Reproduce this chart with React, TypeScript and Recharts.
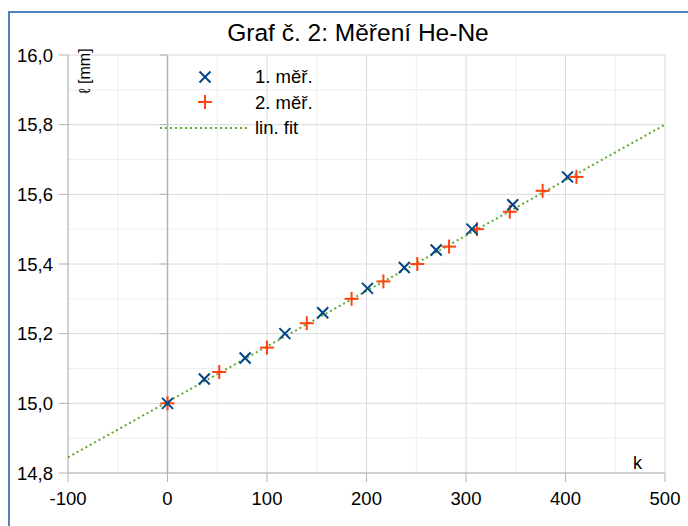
import React from "react";
import { ScatterChart, Scatter, XAxis, YAxis, CartesianGrid, ReferenceLine } from "recharts";

// 1. měření
const k1 = [0, 37, 78, 118, 156, 201, 238, 270, 306, 347, 402];
const l1 = [15.0, 15.07, 15.13, 15.2, 15.26, 15.33, 15.39, 15.44, 15.5, 15.57, 15.65];
// 2. měření
const k2 = [0, 52, 100, 140, 185, 217, 251, 283, 311, 344, 377, 411];
const l2 = [15.0, 15.09, 15.16, 15.23, 15.3, 15.35, 15.4, 15.45, 15.5, 15.55, 15.61, 15.65];
// lineární fit (koncové body)
const fitK = [-100, 500];
const fitL = [14.845, 15.8];

const xTicks = [-100, 0, 100, 200, 300, 400, 500];
const xMinor = [-50, 50, 150, 250, 350, 450];
const yTicks = [14.8, 15.0, 15.2, 15.4, 15.6, 15.8, 16.0];
const yMinor = [14.9, 15.1, 15.3, 15.5, 15.7, 15.9];

const BLUE = "#004586";
const RED = "#ff420e";
const GREEN = "#5fa82f";
const AXIS = "#b3b3b3";
const FONT = "'Liberation Sans', Arial, sans-serif";

const series1 = k1.map((k, i) => ({ k, l: l1[i] }));
const series2 = k2.map((k, i) => ({ k, l: l2[i] }));
const fit = fitK.map((k, i) => ({ k, l: fitL[i] }));

const Cross = (p: any) => {
  const { cx, cy } = p;
  const s = 5.5;
  return (
    <g stroke={BLUE} strokeWidth={2}>
      <line x1={cx - s} y1={cy - s} x2={cx + s} y2={cy + s} />
      <line x1={cx - s} y1={cy + s} x2={cx + s} y2={cy - s} />
    </g>
  );
};

const Plus = (p: any) => {
  const { cx, cy } = p;
  const s = 7;
  return (
    <g stroke={RED} strokeWidth={2}>
      <line x1={cx - s} y1={cy} x2={cx + s} y2={cy} />
      <line x1={cx} y1={cy - s} x2={cx} y2={cy + s} />
    </g>
  );
};

const fmt = (v: number) => v.toFixed(1).replace(".", ",");

export default function App() {
  return (
    <div
      style={{
        position: "absolute",
        left: 0,
        top: 0,
        width: 688,
        height: 526,
        overflow: "hidden",
        background: "#fff",
        fontFamily: FONT,
      }}
    >
      <div
        style={{
          position: "absolute",
          left: 8,
          top: 11,
          width: 720,
          height: 560,
          borderTop: "2px solid #4f81bd",
          borderLeft: "2px solid #4f81bd",
        }}
      />
      <div
        style={{
          position: "absolute",
          left: 0,
          width: 716,
          top: 19,
          textAlign: "center",
          fontSize: 24.5,
          color: "#000",
        }}
      >
        Graf č. 2: Měření He-Ne
      </div>

      <div style={{ position: "absolute", left: 0, top: 0 }}>
        <ScatterChart width={688} height={526} margin={{ top: 55, right: 23, bottom: 23, left: 0 }}>
          <CartesianGrid stroke="#eeeeee" verticalValues={xMinor} horizontalValues={yMinor} />
          <CartesianGrid stroke="#dadada" />
          <XAxis
            type="number"
            dataKey="k"
            domain={[-100, 500]}
            ticks={xTicks}
            allowDataOverflow
            stroke={AXIS}
            tickSize={9}
            tickMargin={10}
            height={30}
            tick={{ fill: "#000", fontSize: 18.5, fontFamily: FONT }}
          />
          <YAxis
            type="number"
            dataKey="l"
            domain={[14.8, 16.0]}
            ticks={yTicks}
            allowDataOverflow
            stroke={AXIS}
            tickSize={9}
            tickMargin={6}
            width={68}
            tickFormatter={fmt}
            tick={{ fill: "#000", fontSize: 18.5, fontFamily: FONT }}
          />
          <ReferenceLine x={0} stroke={AXIS} strokeWidth={1.5} />
          {yTicks.slice(1).map((v) => (
            <ReferenceLine
              key={v}
              segment={[
                { x: -8, y: v },
                { x: 0, y: v },
              ]}
              stroke={AXIS}
            />
          ))}
          <Scatter
            data={fit}
            line={{ stroke: GREEN, strokeWidth: 2, strokeDasharray: "2 3" }}
            shape={() => <g />}
            isAnimationActive={false}
          />
          <Scatter data={series2} shape={Plus} isAnimationActive={false} />
          <Scatter data={series1} shape={Cross} isAnimationActive={false} />
        </ScatterChart>
      </div>

      <div
        style={{
          position: "absolute",
          left: 85,
          top: 71,
          transform: "translate(-50%, -50%) rotate(-90deg)",
          fontSize: 16,
          whiteSpace: "nowrap",
          color: "#000",
        }}
      >
        ℓ [mm]
      </div>
      <div style={{ position: "absolute", left: 633, top: 453, fontSize: 18, color: "#000" }}>k</div>

      <svg style={{ position: "absolute", left: 0, top: 0 }} width={688} height={526}>
        <g>{Cross({ cx: 205, cy: 77 })}</g>
        <g>{Plus({ cx: 205, cy: 102 })}</g>
        <line x1={160} y1={128} x2={247} y2={128} stroke={GREEN} strokeWidth={2} strokeDasharray="2 3" />
      </svg>
      {["1. měř.", "2. měř.", "lin. fit"].map((t, i) => (
        <div
          key={t}
          style={{
            position: "absolute",
            left: 255,
            top: 66 + i * 25.5,
            fontSize: 18.5,
            lineHeight: "22px",
            color: "#000",
            whiteSpace: "nowrap",
          }}
        >
          {t}
        </div>
      ))}
    </div>
  );
}
